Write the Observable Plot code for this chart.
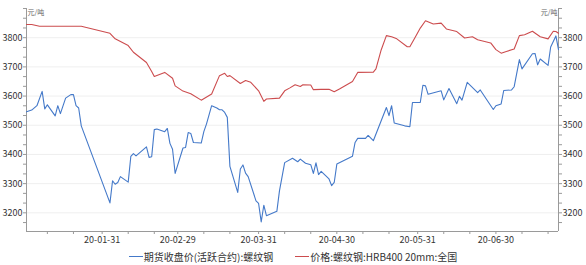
<!DOCTYPE html>
<html>
<head>
<meta charset="utf-8">
<script src="https://cdn.jsdelivr.net/npm/d3@7"></script>
<script src="https://cdn.jsdelivr.net/npm/@observablehq/plot@0.6"></script>
<style>
  html, body { margin: 0; padding: 0; background: #fff; }
  #wrap { width: 586px; font-family: "Noto Sans CJK SC", "Noto Sans", sans-serif; }
  #legend { display: flex; justify-content: center; align-items: center; height: 17px; font-size: 10px; color: #333; white-space: nowrap; }
  .item { display: flex; align-items: center; margin: 0 11px; }
  .swatch { display: inline-block; width: 14px; height: 1px; margin-right: 1px; }
</style>
</head>
<body>
<div id="wrap"><div id="chart"></div><div id="legend"></div></div>
<script>
// ---- data ----
const seriesNames = ["期货收盘价(活跃合约):螺纹钢", "价格:螺纹钢:HRB400 20mm:全国"];
const seriesColors = ["#4479c9", "#cc4c4e"];
const unitLabel = "元/吨";

const futuresDates = ["2020-01-02","2020-01-04","2020-01-06","2020-01-08","2020-01-09","2020-01-10","2020-01-13","2020-01-14","2020-01-15","2020-01-17","2020-01-19","2020-01-20","2020-01-21","2020-01-22","2020-01-23",
"2020-02-03","2020-02-04","2020-02-05","2020-02-06","2020-02-07","2020-02-10","2020-02-11","2020-02-12","2020-02-13","2020-02-17","2020-02-18","2020-02-19","2020-02-20","2020-02-21","2020-02-24","2020-02-25","2020-02-26","2020-02-27","2020-02-28",
"2020-03-02","2020-03-03","2020-03-04","2020-03-05","2020-03-06","2020-03-09","2020-03-10","2020-03-11","2020-03-13","2020-03-15","2020-03-16","2020-03-17","2020-03-18","2020-03-19","2020-03-20","2020-03-23","2020-03-24","2020-03-25","2020-03-26","2020-03-27","2020-03-30","2020-03-31",
"2020-04-01","2020-04-02","2020-04-03","2020-04-07","2020-04-08","2020-04-10","2020-04-13","2020-04-15","2020-04-16","2020-04-18","2020-04-20","2020-04-21","2020-04-22","2020-04-23","2020-04-24","2020-04-27","2020-04-28","2020-04-29","2020-04-30",
"2020-05-06","2020-05-07","2020-05-08","2020-05-11","2020-05-12","2020-05-14","2020-05-19","2020-05-20","2020-05-21","2020-05-22","2020-05-26","2020-05-28","2020-05-29",
"2020-06-01","2020-06-02","2020-06-03","2020-06-04","2020-06-09","2020-06-10","2020-06-12","2020-06-15","2020-06-16","2020-06-17","2020-06-19","2020-06-23","2020-06-24","2020-06-29","2020-06-30",
"2020-07-02","2020-07-03","2020-07-06","2020-07-07","2020-07-09","2020-07-10","2020-07-14","2020-07-15","2020-07-16","2020-07-17","2020-07-20","2020-07-21","2020-07-23","2020-07-24"];
const futuresValues = [3546,3552,3567,3616,3556,3570,3532,3567,3540,3593,3605,3605,3567,3559,3498,
3234,3310,3298,3304,3324,3305,3393,3403,3395,3426,3390,3392,3485,3487,3478,3489,3438,3418,3335,
3422,3424,3475,3472,3441,3439,3478,3504,3567,3559,3553,3553,3544,3527,3359,3270,3350,3364,3336,3324,3241,3232,
3169,3226,3190,3205,3275,3372,3387,3375,3384,3370,3365,3335,3371,3331,3342,3316,3293,3304,3367,
3394,3441,3455,3455,3465,3447,3561,3533,3567,3508,3498,3495,3578,
3578,3637,3635,3606,3618,3587,3626,3574,3599,3586,3647,3612,3621,3554,3567,
3573,3619,3621,3632,3725,3693,3745,3746,3707,3727,3705,3768,3806,3759];

const spotDates = ["2020-01-02","2020-01-04","2020-01-07","2020-01-23",
"2020-02-03","2020-02-05","2020-02-10","2020-02-12","2020-02-17","2020-02-19","2020-02-20","2020-02-24","2020-02-27","2020-02-28",
"2020-03-02","2020-03-05","2020-03-09","2020-03-13","2020-03-16","2020-03-18","2020-03-19","2020-03-20","2020-03-24","2020-03-26","2020-03-28","2020-03-31",
"2020-04-02","2020-04-03","2020-04-08","2020-04-10","2020-04-12","2020-04-14","2020-04-16","2020-04-17","2020-04-20","2020-04-21","2020-04-24","2020-04-27","2020-04-29",
"2020-05-01","2020-05-06","2020-05-08","2020-05-14","2020-05-15","2020-05-17","2020-05-19","2020-05-21","2020-05-23","2020-05-27","2020-05-28","2020-05-30",
"2020-06-01","2020-06-03","2020-06-06","2020-06-09","2020-06-11","2020-06-15","2020-06-18","2020-06-21","2020-06-23","2020-06-28","2020-06-30",
"2020-07-02","2020-07-04","2020-07-07","2020-07-09","2020-07-11","2020-07-14","2020-07-17","2020-07-20","2020-07-22","2020-07-23","2020-07-24"];
const spotValues = [3845,3845,3839,3839,
3815,3796,3773,3750,3715,3684,3667,3681,3661,3635,
3617,3608,3586,3607,3670,3678,3667,3670,3643,3653,3647,3618,
3582,3590,3593,3618,3628,3639,3633,3639,3638,3622,3623,3623,3615,
3624,3650,3681,3682,3693,3758,3807,3803,3796,3769,3769,3801,
3833,3858,3847,3850,3830,3821,3799,3803,3793,3782,3759,
3747,3753,3761,3807,3810,3822,3803,3796,3822,3821,3815];

const xDomainDates = ["2020-01-02", "2020-07-24"];
const xTickDates = ["2020-01-31","2020-02-29","2020-03-31","2020-04-30","2020-05-31","2020-06-30"];
const xMinorTickDates = ["2020-01-10","2020-01-20","2020-02-10","2020-02-20","2020-03-10","2020-03-20","2020-04-10","2020-04-20","2020-05-10","2020-05-20","2020-06-10","2020-06-20","2020-07-10","2020-07-20"];
const yDomain = [3136, 3900];
const yTicks = [3200, 3300, 3400, 3500, 3600, 3700, 3800];

// ---- build ----
const parse = d3.utcParse("%Y-%m-%d");
const futures = futuresDates.map((d, i) => ({date: parse(d), value: futuresValues[i]}));
const spot = spotDates.map((d, i) => ({date: parse(d), value: spotValues[i]}));
const xDomain = xDomainDates.map(parse);
const xTicks = xTickDates.map(parse);
const xMinor = xMinorTickDates.map(parse);
const yMinor = [];
for (let i = 0; i < yTicks.length + 1; i++) {
  const base = (i === 0 ? yTicks[0] - 100 : yTicks[i - 1]);
  [1, 2].forEach(k => { const v = base + k * 100 / 3; if (v > yDomain[0] && v < yDomain[1]) yMinor.push(v); });
}
yMinor.push(yDomain[1]);

const axisStroke = "#9a9a9a";
const textFill = "#333";
const font = 9;
const numFmt = d3.format("d");
const none = () => "";

const chart = Plot.plot({
  width: 586,
  height: 248,
  marginLeft: 26,
  marginRight: 28,
  marginTop: 8,
  marginBottom: 17,
  style: {fontFamily: '"Noto Sans CJK SC", "Noto Sans", sans-serif', background: "#fff"},
  x: {type: "utc", domain: xDomain, axis: null},
  y: {domain: yDomain, axis: null},
  marks: [
    Plot.ruleY(yTicks, {stroke: "#efefef", strokeWidth: 1}),
    Plot.axisY(yTicks, {anchor: "left", label: null, tickSize: 3, tickPadding: 1, fontSize: font, tickFormat: numFmt, stroke: axisStroke, fill: textFill}),
    Plot.axisY(yMinor, {anchor: "left", label: null, tickSize: 3, tickFormat: none, stroke: axisStroke}),
    Plot.axisY(yTicks, {anchor: "right", label: null, tickSize: 3, tickPadding: 1, fontSize: font, tickFormat: numFmt, stroke: axisStroke, fill: textFill}),
    Plot.axisY(yMinor, {anchor: "right", label: null, tickSize: 3, tickFormat: none, stroke: axisStroke}),
    Plot.axisX(xTicks, {anchor: "bottom", label: null, tickSize: 3, tickPadding: 2, fontSize: font, tickFormat: d3.utcFormat("%y-%m-%d"), stroke: axisStroke, fill: textFill}),
    Plot.axisX(xMinor, {anchor: "bottom", label: null, tickSize: 3, tickFormat: none, stroke: axisStroke}),
    Plot.ruleX([xDomain[0]], {stroke: axisStroke}),
    Plot.ruleX([xDomain[1]], {stroke: axisStroke}),
    Plot.ruleY([yDomain[0]], {stroke: axisStroke}),
    Plot.lineY(spot, {x: "date", y: "value", stroke: seriesColors[1], strokeWidth: 1.1}),
    Plot.lineY(futures, {x: "date", y: "value", stroke: seriesColors[0], strokeWidth: 1.1}),
    Plot.text([unitLabel], {frameAnchor: "top-left", textAnchor: "start", dx: 1, dy: 2, fontSize: 7, fill: "#666"}),
    Plot.text([unitLabel], {frameAnchor: "top-right", textAnchor: "end", dx: -1, dy: 2, fontSize: 7, fill: "#666"})
  ]
});
document.getElementById("chart").appendChild(chart);

const legend = document.getElementById("legend");
seriesNames.forEach((name, i) => {
  const item = document.createElement("span");
  item.className = "item";
  const sw = document.createElement("span");
  sw.className = "swatch";
  sw.style.background = seriesColors[i];
  item.appendChild(sw);
  item.appendChild(document.createTextNode(name));
  legend.appendChild(item);
});
</script>
</body>
</html>
